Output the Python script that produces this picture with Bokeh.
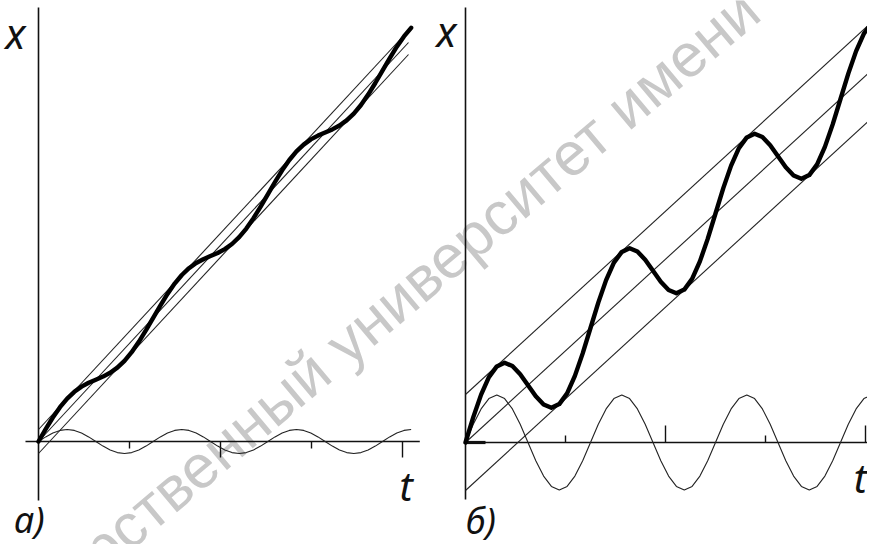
from bokeh.plotting import figure
from bokeh.models import Range1d
from bokeh.core.properties import value
from bokeh.embed import file_html
from bokeh.resources import INLINE

# ---------------- data, panel a) ----------------
t_a = [0, 0.0788, 0.1575, 0.2363, 0.315, 0.3938, 0.4725, 0.5513, 0.63, 0.7088,
       0.7875, 0.8663, 0.945, 1.0238, 1.1025, 1.1813, 1.26, 1.3388, 1.4175, 1.4963,
       1.575, 1.6538, 1.7325, 1.8113, 1.89, 1.9688, 2.0475, 2.1263, 2.205, 2.2838,
       2.3625, 2.4413, 2.52, 2.5988, 2.6775, 2.7563, 2.835, 2.9138, 2.9925, 3.0713,
       3.15, 3.2288, 3.3075, 3.3863, 3.465, 3.5438, 3.6225, 3.7013, 3.78, 3.8588,
       3.9375, 4.0163, 4.095]
osc_a = [0, 0.046, 0.085, 0.111, 0.12, 0.111, 0.085, 0.046, 0, -0.046,
         -0.085, -0.111, -0.12, -0.111, -0.085, -0.046, 0, 0.046, 0.085, 0.111,
         0.12, 0.111, 0.085, 0.046, 0, -0.046, -0.085, -0.111, -0.12, -0.111,
         -0.085, -0.046, 0, 0.046, 0.085, 0.111, 0.12, 0.111, 0.085, 0.046,
         0, -0.046, -0.085, -0.111, -0.12, -0.111, -0.085, -0.046, 0, 0.046,
         0.085, 0.111, 0.12]
x_a = [0, 0.123, 0.240, 0.343, 0.429, 0.497, 0.549, 0.587, 0.618, 0.649,
       0.688, 0.739, 0.807, 0.893, 0.997, 1.113, 1.236, 1.359, 1.476, 1.579,
       1.665, 1.733, 1.785, 1.823, 1.854, 1.885, 1.924, 1.975, 2.043, 2.129,
       2.233, 2.349, 2.472, 2.595, 2.712, 2.815, 2.901, 2.969, 3.021, 3.059,
       3.090, 3.121, 3.160, 3.211, 3.279, 3.365, 3.469, 3.585, 3.708, 3.831,
       3.948, 4.051, 4.137]
guide_t_a = [0, 4.066]
guide_mid_a = [0, 3.99]
guide_up_a = [0.12, 4.11]
guide_lo_a = [-0.12, 3.87]
ticks_a = [1, 2, 3, 4]

# ---------------- data, panel б) ----------------
t_b = [0, 0.078, 0.156, 0.234, 0.313, 0.391, 0.469, 0.547, 0.625, 0.703,
       0.781, 0.859, 0.938, 1.016, 1.094, 1.172, 1.25, 1.328, 1.406, 1.484,
       1.563, 1.641, 1.719, 1.797, 1.875, 1.953, 2.031, 2.109, 2.188, 2.266,
       2.344, 2.422, 2.5, 2.578, 2.656, 2.734, 2.813, 2.891, 2.969, 3.047,
       3.125, 3.203, 3.281, 3.359, 3.438, 3.516, 3.594, 3.672, 3.75, 3.828,
       3.906, 3.984, 4.063]
osc_b = [0, 0.182, 0.336, 0.439, 0.475, 0.439, 0.336, 0.182, 0, -0.182,
         -0.336, -0.439, -0.475, -0.439, -0.336, -0.182, 0, 0.182, 0.336, 0.439,
         0.475, 0.439, 0.336, 0.182, 0, -0.182, -0.336, -0.439, -0.475, -0.439,
         -0.336, -0.182, 0, 0.182, 0.336, 0.439, 0.475, 0.439, 0.336, 0.182,
         0, -0.182, -0.336, -0.439, -0.475, -0.439, -0.336, -0.182, 0, 0.182,
         0.336, 0.439, 0.475]
x_b = [0, 0.254, 0.479, 0.654, 0.761, 0.797, 0.765, 0.683, 0.573, 0.462,
       0.380, 0.348, 0.384, 0.491, 0.666, 0.891, 1.145, 1.399, 1.624, 1.799,
       1.906, 1.942, 1.910, 1.828, 1.718, 1.607, 1.525, 1.493, 1.529, 1.636,
       1.811, 2.036, 2.290, 2.544, 2.769, 2.944, 3.051, 3.087, 3.055, 2.973,
       2.863, 2.752, 2.670, 2.638, 2.674, 2.781, 2.956, 3.181, 3.435, 3.689,
       3.914, 4.089, 4.196]
guide_t_b = [0, 4.07]
guide_mid_b = [0, 3.73]
guide_up_b = [0.48, 4.21]
guide_lo_b = [-0.48, 3.25]
ticks_b = [1, 2, 3, 4]

axis_label_x = "x"
axis_label_t = "t"
panel_labels = ["а)", "б)"]
watermark = "рственный университет имени"

# ---------------- figure ----------------
W, H = 867, 544
p = figure(width=W, height=H, output_backend="svg", toolbar_location=None,
           x_range=Range1d(-0.4176, 9.1099), y_range=Range1d(-1.03, 4.41),
           x_axis_location=None, y_axis_location=None, min_border=0,
           background_fill_color="white", border_fill_color="white")
p.grid.visible = False
p.outline_line_color = None
p.extra_x_ranges = {"b": Range1d(-4.65, 4.02)}
p.extra_y_ranges = {"b": Range1d(-1.02, 4.42)}
B = dict(x_range_name="b", y_range_name="b")

# watermark (behind everything)
p.text(x=[0.56], y=[-1.17], text=[watermark], angle=0.70,
       text_font=value("Liberation Sans"), text_font_size="61px",
       text_color="#c8c8c8", text_baseline="alphabetic", text_align="left")

INK = "#111111"
AX_W = 1.6
THIN = 1.1
THICK = 4.4

# ---- panel a axes ----
p.segment(x0=[0], y0=[-0.59], x1=[0], y1=[4.34], line_color=INK, line_width=AX_W)
p.segment(x0=[-0.143], y0=[0], x1=[4.19], y1=[0], line_color=INK, line_width=AX_W)
tick_len_a = [0.07 if i % 2 == 0 else 0.16 for i in range(len(ticks_a))]
p.segment(x0=ticks_a, y0=[0] * len(ticks_a), x1=ticks_a,
          y1=[-l for l in tick_len_a], line_color=INK, line_width=1.4)

# ---- panel a curves ----
for g in (guide_mid_a, guide_up_a, guide_lo_a):
    p.line(guide_t_a, g, line_color="#222222", line_width=THIN)
p.line(t_a, osc_a, line_color="#222222", line_width=THIN)
p.line(t_a, x_a, line_color="black", line_width=THICK, line_join="round", line_cap="round")

# ---- panel б axes ----
p.segment(x0=[0], y0=[-0.57], x1=[0], y1=[4.35], line_color=INK, line_width=AX_W, **B)
p.segment(x0=[0], y0=[0], x1=[4.1], y1=[0], line_color=INK, line_width=AX_W, **B)
p.segment(x0=[0], y0=[0], x1=[0.2], y1=[0], line_color=INK, line_width=3.2, **B)
tick_len_b = [0.07 if i % 2 == 0 else 0.17 for i in range(len(ticks_b))]
p.segment(x0=ticks_b, y0=[0] * len(ticks_b), x1=ticks_b, y1=tick_len_b,
          line_color=INK, line_width=1.4, **B)

# ---- panel б curves ----
for g in (guide_mid_b, guide_up_b, guide_lo_b):
    p.line(guide_t_b, g, line_color="#222222", line_width=THIN, **B)
p.line(t_b, osc_b, line_color="#222222", line_width=THIN, **B)
p.line(t_b, x_b, line_color="black", line_width=THICK, line_join="round", line_cap="round", **B)

# ---- labels ----
FONT = value("Noto Sans")
STYLE = "italic"
p.text(x=[-0.253], y=[4.09], text=[axis_label_x], text_font=FONT, text_font_style=STYLE,
       text_font_size="42px", text_align="center", text_baseline="alphabetic", text_color=INK)
p.text(x=[4.04], y=[-0.44], text=[axis_label_t], text_font=FONT, text_font_style=STYLE,
       text_font_size="40px", text_align="center", text_baseline="alphabetic", text_color=INK)
p.text(x=[-0.27], y=[-0.78], text=[panel_labels[0]], text_font=FONT, text_font_style=STYLE,
       text_font_size="36px", text_align="left", text_baseline="alphabetic", text_color=INK)

p.text(x=[-0.19], y=[4.12], text=[axis_label_x], text_font=FONT, text_font_style=STYLE,
       text_font_size="42px", text_align="center", text_baseline="alphabetic", text_color=INK, **B)
p.text(x=[3.95], y=[-0.35], text=[axis_label_t], text_font=FONT, text_font_style=STYLE,
       text_font_size="40px", text_align="center", text_baseline="alphabetic", text_color=INK, **B)
p.text(x=[0.0], y=[-0.78], text=[panel_labels[1]], text_font=FONT, text_font_style=STYLE,
       text_font_size="36px", text_align="left", text_baseline="alphabetic", text_color=INK, **B)

open("out.html", "w").write(file_html(p, INLINE))
